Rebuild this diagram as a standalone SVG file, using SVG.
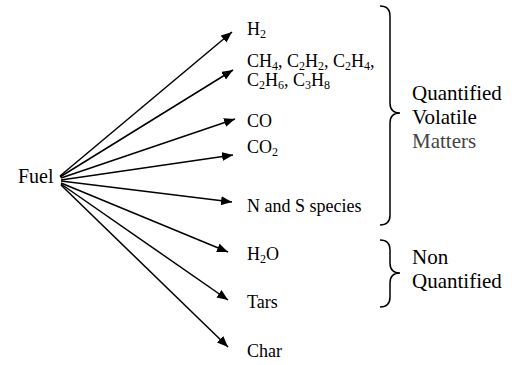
<svg xmlns="http://www.w3.org/2000/svg" width="516" height="365" viewBox="0 0 516 365" font-family="'Liberation Serif', 'Times New Roman', 'DejaVu Serif', serif">
<style>
text{font-family:'Liberation Serif','Times New Roman','DejaVu Serif',serif;fill:#000}
.lbl{font-size:18px}
.big{font-size:21px}
.sub{font-size:12px}
.arr{stroke:#000;stroke-width:1.5;fill:none;marker-end:url(#ah)}
.brace{stroke:#000;stroke-width:1.5;fill:none}
</style>
<defs>
<marker id="ah" markerUnits="userSpaceOnUse" markerWidth="12" markerHeight="10" refX="11" refY="4.5" orient="auto">
<path d="M0,0 L11,4.5 L0,9 z" fill="#000"/>
</marker>
</defs>
<rect width="516" height="365" fill="#fff"/>
<g id="connectors">
<line class="arr" x1="60" y1="176" x2="232" y2="32"/>
<line class="arr" x1="60" y1="177" x2="233" y2="70"/>
<line class="arr" x1="61" y1="178" x2="235" y2="119"/>
<line class="arr" x1="61" y1="180" x2="233" y2="155"/>
<line class="arr" x1="61" y1="181" x2="232" y2="202"/>
<line class="arr" x1="61" y1="183" x2="228" y2="252"/>
<line class="arr" x1="61" y1="184" x2="228" y2="300"/>
<line class="arr" x1="61" y1="185" x2="228" y2="347"/>
</g>
<g id="fuel"><text x="18" y="183" font-size="20">Fuel</text></g>
<g id="h2"><text class="lbl" x="247" y="35">H<tspan class="sub" dy="3">2</tspan></text></g>
<g id="hydrocarbons">
<text class="lbl" x="247" y="67">CH<tspan class="sub" dy="3">4</tspan><tspan dy="-3">, C</tspan><tspan class="sub" dy="3">2</tspan><tspan dy="-3">H</tspan><tspan class="sub" dy="3">2</tspan><tspan dy="-3">, C</tspan><tspan class="sub" dy="3">2</tspan><tspan dy="-3">H</tspan><tspan class="sub" dy="3">4</tspan><tspan dy="-3">,</tspan></text>
<text class="lbl" x="247" y="86">C<tspan class="sub" dy="3">2</tspan><tspan dy="-3">H</tspan><tspan class="sub" dy="3">6</tspan><tspan dy="-3">, C</tspan><tspan class="sub" dy="3">3</tspan><tspan dy="-3">H</tspan><tspan class="sub" dy="3">8</tspan></text>
</g>
<g id="co"><text class="lbl" x="247" y="127">CO</text></g>
<g id="co2"><text class="lbl" x="247" y="153">CO<tspan class="sub" dy="3">2</tspan></text></g>
<g id="ns"><text class="lbl" x="247" y="212">N and S species</text></g>
<g id="h2o"><text class="lbl" x="247" y="260">H<tspan class="sub" dy="3">2</tspan><tspan dy="-3">O</tspan></text></g>
<g id="tars"><text class="lbl" x="247" y="308">Tars</text></g>
<g id="char"><text class="lbl" x="247" y="357">Char</text></g>
<g id="quantified">
<path class="brace" d="M380,6 Q390,6 390,16 L390,103 Q390,113 400,113 Q390,113 390,123 L390,215 Q390,225 380,225"/>
<text class="big" x="412" y="100">Quantified</text>
<text class="big" x="412" y="124">Volatile</text>
<text class="big" x="412" y="148" fill="#444" style="fill:#444">Matters</text>
</g>
<g id="nonquantified">
<path class="brace" d="M380,240 Q390,240 390,250 L390,263 Q390,273 400,273 Q390,273 390,283 L390,297 Q390,307 380,307"/>
<text class="big" x="412" y="264">Non</text>
<text class="big" x="412" y="288">Quantified</text>
</g>
</svg>
